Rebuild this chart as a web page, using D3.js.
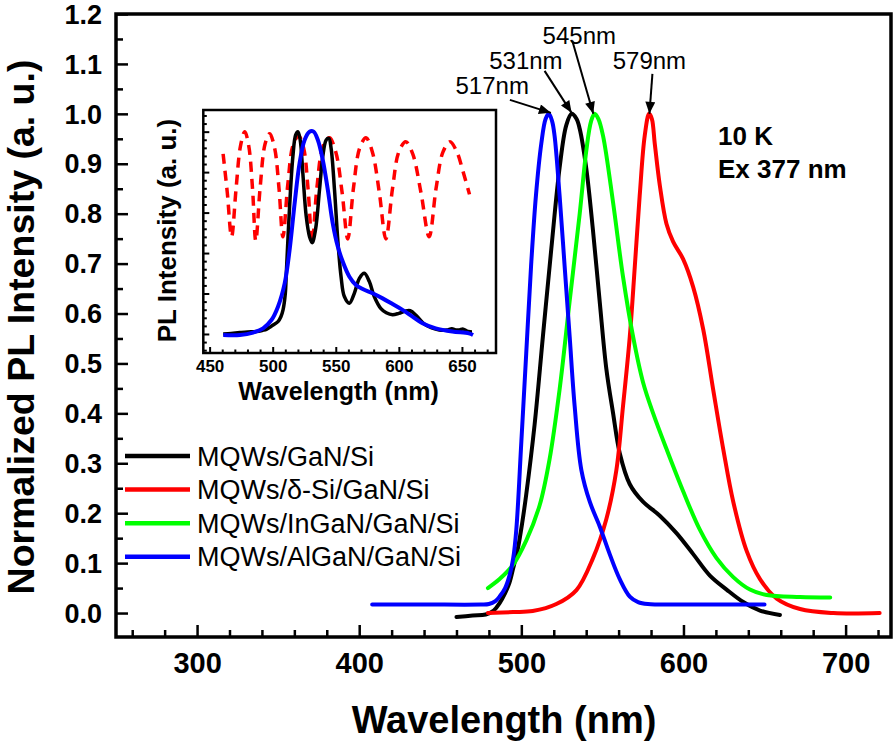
<!DOCTYPE html>
<html>
<head>
<meta charset="utf-8">
<script src="https://cdn.jsdelivr.net/npm/d3@7/dist/d3.min.js"></script>
<style>
  html, body { margin: 0; padding: 0; background: #fff; }
  svg { display: block; }
  text { font-family: "Liberation Sans", Arial, Helvetica, sans-serif; }
</style>
</head>
<body>
<svg id="chart" width="896" height="743"></svg>
<script>
// ---------------- DATA ----------------
const mainXTicks = [300, 400, 500, 600, 700];
const mainYTicks = [0.0, 0.1, 0.2, 0.3, 0.4, 0.5, 0.6, 0.7, 0.8, 0.9, 1.0, 1.1, 1.2];
const insetXTicks = [450, 500, 550, 600, 650];

const seriesNames = ["MQWs/GaN/Si", "MQWs/\u03B4-Si/GaN/Si", "MQWs/InGaN/GaN/Si", "MQWs/AlGaN/GaN/Si"];
const seriesColors = ["#000000", "#ff0000", "#00ff00", "#0000ff"];

// [wavelength nm, normalized intensity]
const gaNSi = [
  [460,-0.008],[470,-0.005],[478,-0.003],[483,0.005],[486.6,0.02],[490,0.04],[492.7,0.061],
  [495,0.09],[497.9,0.13],[500.5,0.18],[503,0.237],[508.2,0.378],[513.3,0.554],[518.5,0.73],
  [523.6,0.892],[527.7,0.977],[531,1.0],[534,0.99],[536,0.97],[540,0.892],[544.2,0.766],
  [548.3,0.625],[552.4,0.49],[556.6,0.40],[560.7,0.32],[566.9,0.258],[575,0.223],[585.4,0.195],
  [595.7,0.16],[606,0.118],[616.3,0.075],[626.6,0.047],[636.9,0.022],[647.2,0.005],[659.5,-0.004]
];
const deltaSi = [
  [479.4,0.0],[495,0.002],[507,0.004],[521.6,0.018],[534,0.046],[544.2,0.11],[552.4,0.188],
  [558.6,0.286],[562.7,0.414],[566.9,0.554],[570,0.695],[573,0.836],[576.1,0.956],[578.8,1.0],
  [580.5,0.99],[582.3,0.94],[585.4,0.857],[589.5,0.78],[593.6,0.744],[599.8,0.709],[606,0.653],
  [612.2,0.568],[618.3,0.448],[624.5,0.329],[630.7,0.223],[638.9,0.125],[647.2,0.068],
  [657.5,0.029],[671.9,0.008],[692.5,0.0],[721,0.0]
];
const inGaN = [
  [479.4,0.05],[486.6,0.068],[494.8,0.096],[503,0.145],[511.3,0.216],[517.4,0.308],[523.6,0.448],
  [529.8,0.625],[536,0.80],[540.1,0.927],[543,0.985],[545.2,1.0],[547.5,0.99],[550.4,0.956],
  [556.6,0.822],[562.7,0.674],[568.9,0.554],[575,0.463],[581.3,0.40],[589.5,0.329],[599.8,0.244],
  [610.1,0.167],[620.4,0.11],[630.7,0.072],[641,0.047],[651.3,0.036],[671.9,0.032],[690.5,0.031]
];
const alGaN = [
  [408,0.017],[440,0.017],[475,0.017],[480,0.018],[484,0.024],[486.6,0.033],[490,0.05],
  [492.7,0.075],[495,0.11],[496.9,0.167],[500,0.343],[503,0.519],[506,0.695],[509,0.836],
  [512.3,0.94],[515,0.99],[517,1.0],[519,0.985],[520.5,0.956],[523.6,0.836],[526.7,0.695],
  [529.8,0.554],[532.9,0.414],[537,0.287],[542.2,0.223],[548.3,0.174],[554.5,0.118],
  [560.7,0.068],[566.9,0.033],[572,0.022],[578,0.018],[600,0.017],[650,0.017]
];
const mainSeries = [gaNSi, deltaSi, inGaN, alGaN];

const peakLabels = ["517nm", "531nm", "545nm", "579nm"];
const peakWavelengths = [517, 531, 545, 579];

// inset data
const insetBlack = [
  [460.8,0.0],[467,0.003],[474,0.007],[480,0.01],[487,0.012],[492,0.018],[495,0.023],[498,0.035],
  [500.3,0.044],[504.2,0.061],[506.5,0.085],[508.2,0.119],[510,0.2],[510.8,0.3],[513.4,0.63],
  [516,0.877],[518.2,0.984],[520,1.0],[521.8,0.959],[523.9,0.794],[526.6,0.58],[529.2,0.481],
  [531.3,0.451],[533.9,0.514],[537.1,0.712],[539.7,0.877],[542.4,0.959],[544.5,0.967],
  [546.3,0.918],[549,0.712],[551.6,0.465],[554.2,0.283],[556.8,0.185],[560.8,0.152],
  [564.7,0.201],[568.7,0.275],[572.6,0.30],[576.6,0.259],[580.5,0.185],[585.8,0.125],
  [590,0.105],[595,0.095],[600,0.102],[605,0.113],[609,0.115],[614,0.09],[620,0.05],[626,0.03],
  [632,0.02],[638,0.02],[642,0.026],[645,0.02],[648,0.02],[651,0.024],[655,0.012],[658,0.01]
];
const insetBlue = [
  [460.8,-0.005],[474,-0.005],[484.5,0.007],[492.4,0.028],[499,0.069],[504.2,0.135],[509.5,0.25],
  [513.4,0.415],[517.4,0.646],[521.3,0.844],[525.3,0.959],[529.2,1.0],[532.4,1.0],[535.8,0.959],
  [539.7,0.86],[543.7,0.712],[547.6,0.547],[551.6,0.432],[555.5,0.358],[560.8,0.283],
  [566,0.242],[571.3,0.222],[579.2,0.201],[587.1,0.176],[595,0.148],[602.9,0.119],
  [610.8,0.086],[618.7,0.053],[629.2,0.028],[642.4,0.012],[655.5,0.003],[658.8,-0.005]
];
const insetRed = [
  [460.7,0.89],[464,0.70],[467.4,0.48],[471,0.72],[474.5,0.93],[477.9,1.0],[481,0.93],[484,0.72],
  [486.6,0.46],[490,0.72],[494,0.94],[497.6,0.99],[501.5,0.92],[505,0.72],[508.1,0.48],[512,0.74],
  [516,0.93],[520.5,0.98],[524.5,0.92],[528,0.72],[531.3,0.45],[535,0.72],[540,0.93],[545,0.97],
  [550,0.90],[555,0.70],[559.5,0.47],[564,0.72],[569,0.92],[574,0.97],[579,0.90],[584.5,0.70],
  [589.7,0.47],[595,0.72],[600,0.90],[605.5,0.95],[611,0.89],[617.5,0.70],[624,0.48],[629.5,0.72],
  [635,0.90],[640.5,0.95],[646,0.90],[651,0.80],[656,0.69]
];

const conditionLines = ["10 K", "Ex 377 nm"];

// ---------------- DRAW ----------------
const FONT = '"Liberation Sans", Arial, Helvetica, sans-serif';
const svg = d3.select("#chart");

const x = d3.scaleLinear().domain([250, 728]).range([116, 891]);
const y = d3.scaleLinear().domain([-0.048, 1.2]).range([637, 14]);

// arrow marker
svg.append("defs").append("marker")
  .attr("id", "arrow").attr("markerUnits", "userSpaceOnUse")
  .attr("viewBox", "0 0 12 10").attr("refX", 12).attr("refY", 5)
  .attr("markerWidth", 13).attr("markerHeight", 10).attr("orient", "auto")
  .append("path").attr("d", "M0,0 L12,5 L0,10 Z").attr("fill", "#000");

// minor ticks
const xMinor = d3.range(260, 728, 20).filter(v => v % 100 !== 0);
const yMinor = d3.range(0.05, 1.2, 0.1);

const gxMinor = svg.append("g").attr("transform", "translate(0,637)")
  .call(d3.axisBottom(x).tickValues(xMinor).tickSize(-7).tickFormat(""));
const gx = svg.append("g").attr("transform", "translate(0,637)")
  .call(d3.axisBottom(x).tickValues(mainXTicks).tickSize(-12).tickFormat(d3.format("d")));
const gyMinor = svg.append("g").attr("transform", "translate(116,0)")
  .call(d3.axisLeft(y).tickValues(yMinor).tickSize(-7).tickFormat(""));
const gy = svg.append("g").attr("transform", "translate(116,0)")
  .call(d3.axisLeft(y).tickValues(mainYTicks).tickSize(-12).tickPadding(14).tickFormat(d3.format(".1f")));

[gxMinor, gx, gyMinor, gy].forEach(g => {
  g.select(".domain").remove();
  g.selectAll(".tick line").attr("stroke", "#000").attr("stroke-width", 2.5);
});
gx.selectAll(".tick text").attr("y", 36).attr("dy", 0)
  .attr("font-size", 29).attr("font-weight", "bold").attr("font-family", FONT).attr("fill", "#000");
gy.selectAll(".tick text").attr("dy", "0.34em")
  .attr("font-size", 27).attr("font-weight", "bold").attr("font-family", FONT).attr("fill", "#000");

// frame
svg.append("rect").attr("x", 116).attr("y", 14).attr("width", 775).attr("height", 623)
  .attr("fill", "none").attr("stroke", "#000").attr("stroke-width", 3.5);

// axis titles
svg.append("text").attr("x", 504).attr("y", 733).attr("text-anchor", "middle")
  .attr("font-size", 38).attr("font-weight", "bold").text("Wavelength (nm)");
svg.append("text").attr("transform", "translate(34,327) rotate(-90)").attr("text-anchor", "middle")
  .attr("font-size", 37.5).attr("font-weight", "bold").text("Normalized PL Intensity (a. u.)");

// main curves
const line = d3.line().x(d => x(d[0])).y(d => y(d[1])).curve(d3.curveCatmullRom.alpha(0.5));
svg.append("g").selectAll("path").data(mainSeries).join("path")
  .attr("d", line).attr("fill", "none")
  .attr("stroke", (d, i) => seriesColors[i]).attr("stroke-width", 4)
  .attr("stroke-linejoin", "round").attr("stroke-linecap", "round");

// legend
const legend = svg.append("g");
seriesNames.forEach((name, i) => {
  const ly = 456 + i * 33.6;
  legend.append("line").attr("x1", 125).attr("x2", 190).attr("y1", ly).attr("y2", ly)
    .attr("stroke", seriesColors[i]).attr("stroke-width", 4.5);
  legend.append("text").attr("x", 197).attr("y", ly + 9.5)
    .attr("font-size", 27).text(name);
});

// peak annotations
const tipOff = [[2, -1], [0, -1], [-1, 0], [0, 0]];
const tailOff = [[-39, -14], [-27, -43], [-22, -73], [3, -40]];
const labelPos = [[-20, -20], [-9, -45], [-15, -70], [0, -45]];
const labelAnchor = ["end", "end", "middle", "middle"];
peakWavelengths.forEach((w, i) => {
  const px = x(w), py = y(1.0);
  svg.append("line")
    .attr("x1", px + tailOff[i][0]).attr("y1", py + tailOff[i][1])
    .attr("x2", px + tipOff[i][0]).attr("y2", py + tipOff[i][1])
    .attr("stroke", "#000").attr("stroke-width", 2).attr("marker-end", "url(#arrow)");
  svg.append("text").attr("x", px + labelPos[i][0]).attr("y", py + labelPos[i][1])
    .attr("text-anchor", labelAnchor[i]).attr("font-size", 24).text(peakLabels[i]);
});

// condition text
conditionLines.forEach((t, i) => {
  svg.append("text").attr("x", 718).attr("y", 145 + i * 33)
    .attr("font-size", 26).attr("font-weight", "bold").text(t);
});

// ---------------- INSET ----------------
const xi = d3.scaleLinear().domain([445, 677]).range([203.3, 496]);
const yi = d3.scaleLinear().domain([-0.094, 1.107]).range([353, 110]);

const inset = svg.append("g");
inset.append("rect").attr("x", 203.3).attr("y", 110).attr("width", 292.7).attr("height", 243)
  .attr("fill", "#fff").attr("stroke", "none");

const ixMinor = d3.range(450, 677, 10).filter(v => v % 50 !== 0);
const iyMajor = [0, 0.2, 0.4, 0.6, 0.8, 1.0];
const iyMinor = d3.range(-0.08, 1.1, 0.04).filter(v => Math.abs(Math.round(v / 0.2) * 0.2 - v) > 0.01);

const gix = inset.append("g").attr("transform", "translate(0,353)")
  .call(d3.axisBottom(xi).tickValues(insetXTicks).tickSize(-6).tickFormat(d3.format("d")));
const gixm = inset.append("g").attr("transform", "translate(0,353)")
  .call(d3.axisBottom(xi).tickValues(ixMinor).tickSize(-3.5).tickFormat(""));
const giy = inset.append("g").attr("transform", "translate(203.3,0)")
  .call(d3.axisLeft(yi).tickValues(iyMajor).tickSize(-6).tickFormat(""));
const giym = inset.append("g").attr("transform", "translate(203.3,0)")
  .call(d3.axisLeft(yi).tickValues(iyMinor).tickSize(-3.5).tickFormat(""));
[gix, gixm, giy, giym].forEach(g => {
  g.select(".domain").remove();
  g.selectAll(".tick line").attr("stroke", "#000").attr("stroke-width", 2);
});
gix.selectAll(".tick text").attr("y", 19).attr("dy", 0)
  .attr("font-size", 17).attr("font-weight", "bold").attr("font-family", FONT).attr("fill", "#000");

const iline = d3.line().x(d => xi(d[0])).y(d => yi(d[1])).curve(d3.curveCatmullRom.alpha(0.5));
inset.append("path").datum(insetRed).attr("d", iline).attr("fill", "none")
  .attr("stroke", "#ff0000").attr("stroke-width", 3.5).attr("stroke-dasharray", "10,7");
inset.append("path").datum(insetBlack).attr("d", iline).attr("fill", "none")
  .attr("stroke", "#000").attr("stroke-width", 3.5).attr("stroke-linejoin", "round");
inset.append("path").datum(insetBlue).attr("d", iline).attr("fill", "none")
  .attr("stroke", "#0000ff").attr("stroke-width", 4).attr("stroke-linejoin", "round");

inset.append("rect").attr("x", 203.3).attr("y", 110).attr("width", 292.7).attr("height", 243)
  .attr("fill", "none").attr("stroke", "#000").attr("stroke-width", 2.5);

inset.append("text").attr("x", 338.5).attr("y", 400).attr("text-anchor", "middle")
  .attr("font-size", 25).attr("font-weight", "bold").text("Wavelength (nm)");
inset.append("text").attr("transform", "translate(176,230.5) rotate(-90)").attr("text-anchor", "middle")
  .attr("font-size", 26).attr("font-weight", "bold").text("PL Intensity (a. u.)");
</script>
</body>
</html>
